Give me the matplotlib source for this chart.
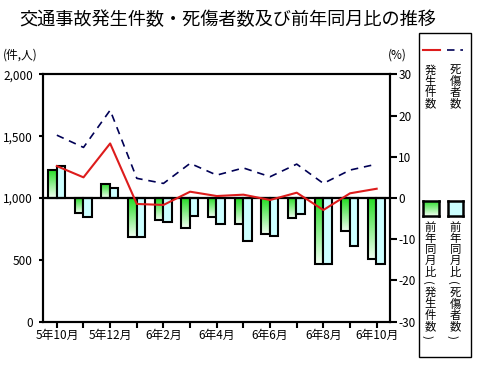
import matplotlib
matplotlib.use("Agg")
import matplotlib.pyplot as plt
import numpy as np
from matplotlib.patches import Rectangle
from matplotlib.lines import Line2D
from matplotlib.colors import LinearSegmentedColormap

plt.rcParams['font.family'] = ['Noto Sans CJK JP', 'DejaVu Sans']

months = ["5年10月", "5年11月", "5年12月", "6年1月", "6年2月", "6年3月", "6年4月",
          "6年5月", "6年6月", "6年7月", "6年8月", "6年9月", "6年10月"]
accidents = [1258, 1167, 1441, 952, 944, 1051, 1016, 1027, 984, 1043, 903, 1038, 1075]
casualties = [1508, 1409, 1710, 1159, 1118, 1280, 1185, 1243, 1172, 1274, 1118, 1226, 1274]
yoy_accidents = [6.9, -3.7, 3.4, -9.4, -5.3, -7.3, -4.7, -6.3, -8.7, -4.9, -16.0, -7.9, -14.8]
yoy_casualties = [7.8, -4.7, 2.5, -9.5, -5.7, -4.3, -6.3, -10.5, -9.2, -3.9, -16.0, -11.6, -16.0]
left_ticks = [0, 500, 1000, 1500, 2000]
left_ticklabels = ["0", "500", "1,000", "1,500", "2,000"]
right_ticks = [-30, -20, -10, 0, 10, 20, 30]

title = "交通事故発生件数・死傷者数及び前年同月比の推移"
leg_line_labels = ["発生件数", "死傷者数"]
leg_bar_labels = ["前年同月比(発生件数)", "前年同月比(死傷者数)"]

fig = plt.figure(figsize=(4.8, 3.65), dpi=100)
ax = fig.add_axes([0.089, 0.1186, 0.7235, 0.6778])
ax2 = ax.twinx()

x = np.arange(len(months))
fs = 8.5
lw_sp = 1.5

# bars on percent axis
bw = 0.32
gb = ax2.bar(x - 0.33, yoy_accidents, width=bw, align='edge', facecolor='none',
             edgecolor='black', linewidth=1.5, zorder=3)
cb = ax2.bar(x - 0.01, yoy_casualties, width=bw, align='edge', facecolor='#ccffff',
             edgecolor='black', linewidth=1.5, zorder=3)

grad = np.linspace(0, 1, 64).reshape(-1, 1)
gcmap = LinearSegmentedColormap.from_list('g', ['#22dd22', '#f2fff2'])
for r in gb:
    x0, y0 = r.get_x(), r.get_y()
    w, h = r.get_width(), r.get_height()
    ylo, yhi = min(y0, y0 + h), max(y0, y0 + h)
    im = ax2.imshow(grad, cmap=gcmap, extent=[x0, x0 + w, ylo, yhi], origin='upper',
                    aspect='auto', zorder=2.5, interpolation='bilinear')
    im.set_clip_path(r)

ax2.axhline(0, color='black', lw=1.6, zorder=4)

# lines on count axis
ax.plot(x, accidents, color='#dd1c1c', lw=1.5, zorder=5)
ax.plot(x, casualties, color='#000055', lw=1.2, dashes=(4.5, 3.5), zorder=5)

ax.set_zorder(ax2.get_zorder() + 1)
ax.patch.set_visible(False)

ax.set_xlim(-0.53, 12.5)
ax.set_ylim(0, 2000)
ax2.set_ylim(-30, 30)

ax.set_yticks(left_ticks)
ax.set_yticklabels(left_ticklabels, fontsize=fs)
ax2.set_yticks(right_ticks)
ax2.set_yticklabels([str(t) for t in right_ticks], fontsize=fs)
ax.set_xticks(x)
ax.set_xticklabels([m if i % 2 == 0 else "" for i, m in enumerate(months)], fontsize=fs)

ax.tick_params(axis='y', direction='out', length=3, width=1.5, pad=4)
ax2.tick_params(axis='y', direction='out', length=5, width=1.5, pad=1)
ax.tick_params(axis='x', direction='out', length=4, width=1.5, pad=1)

for a in (ax, ax2):
    for s in a.spines.values():
        s.set_linewidth(lw_sp)
        s.set_color('black')

fig.text(0.04, 0.945, title, fontsize=13.1, ha='left', va='center')
fig.text(0.005, 0.85, "(件,人)", fontsize=fs, ha='left', va='center')
fig.text(0.808, 0.85, "(%)", fontsize=fs, ha='left', va='center')

# legend box
W, H = 480.0, 365.0
def fx(px): return px / W
def fy(py): return 1 - py / H

def vtext(xc, ytop, s, size=8.2, pitch=11.2, ppitch=8.5):
    y = ytop
    for ch in s:
        if ch in "()":
            y += ppitch / 2
            fig.text(fx(xc - 3.5), fy(y), ch, fontsize=size, ha='center', va='center',
                     rotation=-90)
            y += ppitch / 2
        else:
            y += pitch / 2
            fig.text(fx(xc), fy(y), ch, fontsize=size, ha='center', va='center')
            y += pitch / 2

fig.patches.append(Rectangle((fx(419), fy(357)), fx(471) - fx(419), fy(33) - fy(357),
                             transform=fig.transFigure, fill=False, edgecolor='black', lw=1.0))
fig.lines.append(Line2D([fx(423), fx(440)], [fy(50), fy(50)], transform=fig.transFigure,
                        color='#dd1c1c', lw=1.5))
fig.lines.append(Line2D([fx(447), fx(463)], [fy(50), fy(50)], transform=fig.transFigure,
                        color='#000055', lw=1.2, dashes=(4.5, 3.5)))
vtext(430.5, 64.5, leg_line_labels[0])
vtext(455.5, 64.5, leg_line_labels[1])

sq_g = fig.add_axes([fx(423), fy(216), fx(439) - fx(423), fy(201) - fy(216)])
sq_g.imshow(grad, cmap=gcmap, aspect='auto', extent=[0, 1, 0, 1], origin='upper')
sq_g.set_xticks([]); sq_g.set_yticks([])
for s in sq_g.spines.values():
    s.set_linewidth(1.8)
sq_c = fig.add_axes([fx(447.5), fy(216), fx(463) - fx(447.5), fy(201) - fy(216)])
sq_c.set_facecolor('#ccffff')
sq_c.set_xticks([]); sq_c.set_yticks([])
for s in sq_c.spines.values():
    s.set_linewidth(1.8)

vtext(430.5, 221.5, leg_bar_labels[0], pitch=11.3, ppitch=9)
vtext(455.5, 221.5, leg_bar_labels[1], pitch=11.3, ppitch=9)

fig.savefig("out.png", dpi=100)
